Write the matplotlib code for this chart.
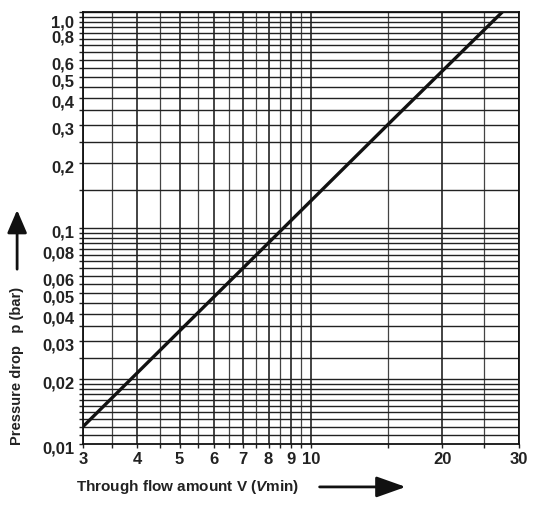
import numpy as np
import matplotlib
matplotlib.use('Agg')
import matplotlib.pyplot as plt
from matplotlib.ticker import FixedLocator, NullFormatter
from matplotlib.transforms import ScaledTranslation

plt.rcParams['font.family'] = ['Liberation Sans', 'DejaVu Sans']
plt.rcParams['font.weight'] = 'bold'
plt.rcParams['mathtext.fontset'] = 'custom'
plt.rcParams['mathtext.it'] = 'Liberation Sans:italic:bold'
plt.rcParams['mathtext.rm'] = 'Liberation Sans:bold'

# characteristic curve
flow = [3, 15, 27.5]
pressure = [0.012, 0.3, 1.0]

x_ticks = [3, 4, 5, 6, 7, 8, 9, 10, 20, 30]
x_labels = ['3', '4', '5', '6', '7', '8', '9', '10', '20', '30']
x_minor = [3.5, 4.5, 5.5, 6.5, 7.5, 8.5, 9.5, 15, 25]

y_ticks = [0.01, 0.02, 0.03, 0.04, 0.05, 0.06, 0.08, 0.1, 0.2, 0.3, 0.4, 0.5, 0.6, 0.8]
y_labels = ['0,01', '0,02', '0,03', '0,04', '0,05', '0,06', '0,08', '0,1',
            '0,2', '0,3', '0,4', '0,5', '0,6', '0,8']
y_grid = (list(np.arange(0.011, 0.0205, 0.001)) + list(np.arange(0.025, 0.1005, 0.005))
          + list(np.arange(0.15, 1.0005, 0.05)))

fig = plt.figure(figsize=(5.52, 5.18), dpi=100)
ax = fig.add_axes([0.150, 0.143, 0.790, 0.834])
ax.set_xscale('log')
ax.set_yscale('log')
ax.set_xlim(3, 30)
ax.set_ylim(0.01, 1.0)

# grid
for v in x_ticks:
    ax.axvline(v, color='#111111', lw=1.1, zorder=1)
for v in x_minor:
    ax.axvline(v, color='#444444', lw=0.9, zorder=1)
for v in y_grid:
    ax.axhline(v, color='#222222', lw=1.0, zorder=1)

ax.plot(flow, pressure, color='#111111', lw=2.4, solid_capstyle='butt', zorder=3)

ax.xaxis.set_major_locator(FixedLocator(x_ticks))
ax.xaxis.set_minor_locator(FixedLocator(x_minor))
ax.set_xticklabels(x_labels)
ax.xaxis.set_minor_formatter(NullFormatter())
ax.yaxis.set_major_locator(FixedLocator(y_ticks))
ax.yaxis.set_minor_locator(FixedLocator(y_grid))
ax.set_yticklabels(y_labels)
ax.yaxis.set_minor_formatter(NullFormatter())

ax.tick_params(which='both', direction='out', length=3, width=1, color='#222222')
ax.tick_params(axis='x', labelsize=12, pad=3)
ax.tick_params(axis='y', labelsize=12, pad=3)
shift = ScaledTranslation(0, -2.5 / 72, fig.dpi_scale_trans)
for lbl in ax.get_xticklabels():
    lbl.set_fontweight('bold')
    lbl.set_color('#222222')
for lbl in ax.get_yticklabels():
    lbl.set_fontweight('bold')
    lbl.set_color('#222222')
    lbl.set_transform(lbl.get_transform() + shift)

# "1,0" label sits a bit below the top edge in the original
ax.annotate('1,0', xy=(0, 1.0), xycoords=('axes fraction', 'data'),
            xytext=(-6, -8), textcoords='offset points', ha='right', va='center',
            fontsize=12, fontweight='bold', color='#222222')

for s in ax.spines.values():
    s.set_linewidth(1.3)
    s.set_color('#111111')

# axis titles with arrows
fig.text(0.138, 0.060, r'Through flow amount V ($\mathit{V}$min)', ha='left', va='center',
         fontsize=11, fontweight='bold', color='#222222')
fig.text(0.031, 0.293, 'Pressure drop   p (bar)', ha='center', va='center', rotation=90,
         fontsize=10.5, fontweight='bold', color='#222222')

fig.patches.append(matplotlib.patches.FancyArrowPatch(
    (0.574, 0.060), (0.740, 0.060), transform=fig.transFigure,
    arrowstyle='-|>,head_length=9,head_width=3.2', lw=2, color='#111111', mutation_scale=2))
fig.patches.append(matplotlib.patches.FancyArrowPatch(
    (0.031, 0.475), (0.031, 0.600), transform=fig.transFigure,
    arrowstyle='-|>,head_length=7,head_width=3', lw=2, color='#111111', mutation_scale=2))

fig.savefig('out.png', dpi=100)
